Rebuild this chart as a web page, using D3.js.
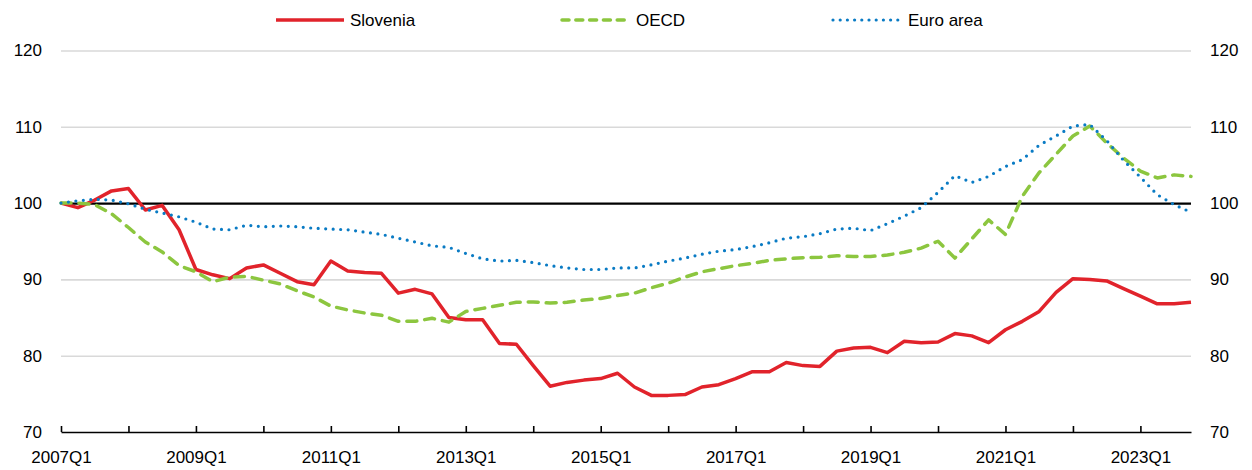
<!DOCTYPE html>
<html>
<head>
<meta charset="utf-8">
<script src="https://cdn.jsdelivr.net/npm/d3@7"></script>
<style>
  body { margin: 0; background: #fff; }
  svg text { font-family: "Liberation Sans", Arial, sans-serif; font-size: 17px; fill: #000; }
</style>
</head>
<body>
<div id="chart"></div>
<script>
// quarterly index, 2007Q1 = 100
var quarters = [];
for (var yr = 2007; yr <= 2023; yr++) {
    for (var q = 1; q <= 4; q++) quarters.push(yr + "Q" + q);
}

var xTickLabels = ["2007Q1", "2009Q1", "2011Q1", "2013Q1", "2015Q1", "2017Q1", "2019Q1", "2021Q1", "2023Q1"];
var yTicks = [70, 80, 90, 100, 110, 120];

var slovenia = [100.0, 99.4, 100.4, 101.6, 101.9, 99.1, 99.7, 96.5, 91.3, 90.6,
    90.1, 91.5, 91.9, 90.8, 89.7, 89.3, 92.4, 91.1, 90.9, 90.8,
    88.2, 88.7, 88.1, 85.0, 84.7, 84.7, 81.6, 81.5, 78.7, 76.0,
    76.5, 76.8, 77.0, 77.7, 75.9, 74.8, 74.8, 74.9, 75.9, 76.2,
    77.0, 77.9, 77.9, 79.1, 78.7, 78.6, 80.6, 81.0, 81.1, 80.4,
    81.9, 81.7, 81.8, 82.9, 82.6, 81.7, 83.4, 84.5, 85.8, 88.3,
    90.1, 90.0, 89.8, 88.8, 87.8, 86.8, 86.8, 87.0];

var oecd = [100.0, 100.0, 99.8, 98.6, 96.8, 94.9, 93.6, 91.8, 91.0, 89.7,
    90.3, 90.4, 89.9, 89.4, 88.5, 87.7, 86.5, 86.0, 85.6, 85.3,
    84.5, 84.5, 84.9, 84.4, 85.8, 86.2, 86.6, 87.0, 87.05, 86.9,
    87.0, 87.3, 87.5, 87.9, 88.2, 88.9, 89.5, 90.3, 91.0, 91.4,
    91.8, 92.1, 92.5, 92.7, 92.85, 92.9, 93.1, 93.0, 93.0, 93.2,
    93.55, 94.1, 95.0, 92.8, 95.3, 97.8, 95.9, 100.9, 104.0, 106.4,
    108.8, 110.1, 107.9, 105.9, 104.2, 103.3, 103.7, 103.5];

var euroArea = [100.0, 100.3, 100.5, 100.4, 99.9, 99.2, 98.7, 98.2, 97.5, 96.6,
    96.5, 97.1, 96.9, 97.0, 96.9, 96.7, 96.6, 96.5, 96.2, 95.9,
    95.4, 94.9, 94.4, 94.2, 93.4, 92.7, 92.4, 92.5, 92.2, 91.8,
    91.5, 91.3, 91.3, 91.5, 91.5, 91.9, 92.4, 92.8, 93.3, 93.7,
    93.9, 94.3, 94.8, 95.4, 95.6, 96.0, 96.6, 96.7, 96.4, 97.3,
    98.3, 99.4, 101.4, 103.6, 102.7, 103.5, 104.8, 105.7, 107.6, 108.8,
    110.1, 110.3, 108.2, 105.6, 103.4, 101.1, 99.8, 98.8];

var series = [
    { name: "Slovenia", values: slovenia, color: "#e1232b", dash: null, legendDash: null, cap: "butt", width: 3.5 },
    { name: "OECD", values: oecd, color: "#8cc63f", dash: "10,8", legendDash: "7,6.8", cap: "round", width: 3.5 },
    { name: "Euro area", values: euroArea, color: "#0a7bc4", dash: "0,7.5", legendDash: "0,7.2", cap: "round", width: 3.2 }
];

(function () {
    var W = 1252, H = 470;
    var plotLeft = 61, plotRight = 1191, plotTop = 50.5, plotBottom = 432;

    var svg = d3.select("#chart").append("svg")
        .attr("width", W)
        .attr("height", H);

    var x = d3.scalePoint().domain(quarters).range([plotLeft, plotRight]).padding(0);
    var y = d3.scaleLinear().domain([70, 120]).range([plotBottom, plotTop]);

    // horizontal grid + left labels
    var gLeft = svg.append("g")
        .attr("transform", "translate(" + plotLeft + ",0)")
        .call(d3.axisLeft(y).tickValues(yTicks).tickSize(-(plotRight - plotLeft)).tickPadding(19));
    gLeft.select(".domain").remove();
    gLeft.selectAll(".tick line")
        .attr("stroke", function (d) { return d === 100 ? "#000" : "#d9d9d9"; })
        .attr("stroke-width", function (d) { return d === 100 ? 2.3 : 1.6; })
        .style("display", function (d) { return d === 70 ? "none" : null; });
    gLeft.selectAll(".tick text").attr("font-size", null).attr("font-family", null);

    // right labels
    var gRight = svg.append("g")
        .attr("transform", "translate(" + plotRight + ",0)")
        .call(d3.axisRight(y).tickValues(yTicks).tickSize(0).tickPadding(19));
    gRight.select(".domain").remove();
    gRight.selectAll(".tick text").attr("font-size", null).attr("font-family", null);

    // series
    var line = d3.line()
        .x(function (d, i) { return x(quarters[i]); })
        .y(function (d) { return y(d); });

    series.forEach(function (s) {
        svg.append("path")
            .datum(s.values)
            .attr("fill", "none")
            .attr("stroke", s.color)
            .attr("stroke-width", s.width)
            .attr("stroke-linejoin", "round")
            .attr("stroke-linecap", s.cap)
            .attr("stroke-dasharray", s.dash)
            .attr("d", line);
    });

    // x axis, ticks pointing up at each Q1
    var gX = svg.append("g")
        .attr("transform", "translate(0," + plotBottom + ")")
        .call(d3.axisBottom(x)
            .tickValues(quarters.filter(function (d) { return /Q1$/.test(d); }))
            .tickSizeInner(-6).tickSizeOuter(0).tickPadding(19)
            .tickFormat(function (d) { return xTickLabels.indexOf(d) >= 0 ? d : ""; }));
    gX.select(".domain").attr("stroke", "#000").attr("stroke-width", 1.6);
    gX.selectAll(".tick line").attr("stroke", "#000").attr("stroke-width", 1.6);
    gX.selectAll(".tick text").attr("font-size", null).attr("font-family", null);

    // legend
    var legendPos = [276, 562, 833];
    series.forEach(function (s, i) {
        var g = svg.append("g").attr("transform", "translate(" + legendPos[i] + ",20)");
        g.append("line")
            .attr("x1", 0).attr("x2", 68)
            .attr("stroke", s.color)
            .attr("stroke-width", s.width)
            .attr("stroke-linecap", s.cap)
            .attr("stroke-dasharray", s.legendDash);
        g.append("text")
            .attr("x", i === 2 ? 75 : 74)
            .attr("dy", "0.36em")
            .text(s.name);
    });
})();
</script>
</body>
</html>
